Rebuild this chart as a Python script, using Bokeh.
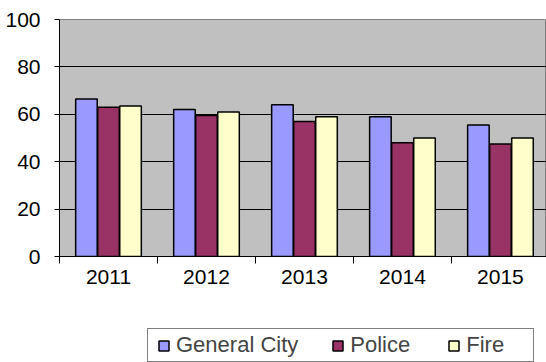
from bokeh.plotting import figure
from bokeh.models import ColumnDataSource, FixedTicker, Legend, LegendItem, Range1d
from bokeh.transform import dodge
from bokeh.layouts import column
from bokeh.embed import file_html
from bokeh.resources import INLINE

years = ["2011", "2012", "2013", "2014", "2015"]
general_city = [66.5, 62, 64, 59, 55.5]
police = [63, 59.5, 57, 48, 47.5]
fire = [63.5, 61, 59, 50, 50]
series_names = ["General City", "Police", "Fire"]
colors = ["#9999FF", "#993366", "#FFFFCC"]
y_ticks = [0, 20, 40, 60, 80, 100]

centers = [i + 0.5 for i in range(len(years))]
src = ColumnDataSource(dict(x=centers, gc=general_city, po=police, fi=fire))

FONT = "Liberation Sans"

p = figure(width=546, height=300, output_backend="svg", toolbar_location=None,
           x_range=Range1d(0, 4.97), y_range=Range1d(0, 100),
           min_border_left=59, min_border_right=0, min_border_top=19, min_border_bottom=44)
p.background_fill_color = "#C0C0C0"
p.border_fill_color = "white"
p.outline_line_color = "#808080"
p.outline_line_width = 1

bar_w = 0.22
for field, off, col in zip(["gc", "po", "fi"], [-0.225, 0.0, 0.225], colors):
    p.vbar(x=dodge("x", off), top=field, width=bar_w, source=src,
           fill_color=col, line_color="black", line_width=1.5)

# x axis
p.xaxis.ticker = FixedTicker(ticks=centers, minor_ticks=[0, 1, 2, 3, 4, 5])
p.xaxis.major_label_overrides = {c: y for c, y in zip(centers, years)}
p.xaxis.major_tick_line_color = None
p.xaxis.minor_tick_in = 0
p.xaxis.minor_tick_out = 7
p.xaxis.minor_tick_line_color = "black"
p.xaxis.axis_line_color = "black"
p.xaxis.major_label_standoff = 6
p.xaxis.major_label_text_font = FONT
p.xaxis.major_label_text_font_size = "21px"
p.xaxis.major_label_text_color = "black"

# y axis
p.yaxis.ticker = FixedTicker(ticks=y_ticks)
p.yaxis.major_tick_in = 0
p.yaxis.major_tick_out = 5
p.yaxis.minor_tick_line_color = None
p.yaxis.axis_line_color = "black"
p.yaxis.major_label_standoff = 14
p.yaxis.major_label_text_font = FONT
p.yaxis.major_label_text_font_size = "21px"
p.yaxis.major_label_text_color = "black"

p.xgrid.grid_line_color = None
p.ygrid.ticker = FixedTicker(ticks=y_ticks)
p.ygrid.grid_line_color = "black"
p.ygrid.grid_line_width = 1

# legend strip
p2 = figure(width=546, height=62, output_backend="svg", toolbar_location=None,
            x_range=Range1d(0, 546), y_range=Range1d(0, 62),
            x_axis_location=None, y_axis_location=None,
            min_border_left=0, min_border_right=0, min_border_top=0, min_border_bottom=0)
p2.outline_line_color = None
p2.xgrid.grid_line_color = None
p2.ygrid.grid_line_color = None
p2.background_fill_color = "white"

# legend-only renderers, placed outside the visible range
dummies = []
for col in colors:
    r = p2.scatter(x=[-1000], y=[0], marker="square", size=10,
                   fill_color=col, line_color="black", line_width=1.5)
    dummies.append(r)

legend = Legend(items=[LegendItem(label=n, renderers=[r]) for n, r in zip(series_names, dummies)],
                orientation="horizontal", location=(88, 0),
                glyph_width=25, glyph_height=25, label_standoff=-4, spacing=27,
                label_width=64, padding=3, margin=0,
                label_text_font=FONT, label_text_font_size="22px",
                border_line_color="black", border_line_width=1,
                background_fill_color="white", background_fill_alpha=1)
p2.add_layout(legend, "center")

layout = column(p, p2, spacing=0)
open("out.html", "w").write(file_html(layout, INLINE))
